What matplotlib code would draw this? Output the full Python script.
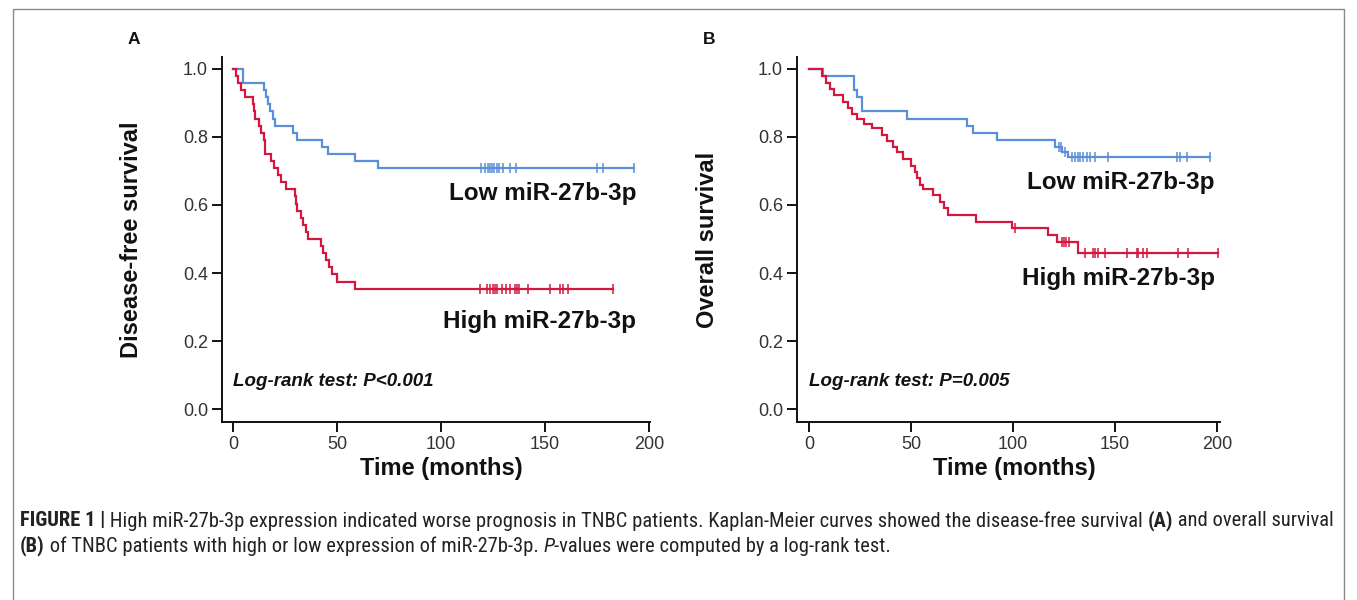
import bisect
import matplotlib
matplotlib.use("Agg")
import matplotlib.pyplot as plt
from matplotlib import font_manager
from matplotlib.patches import Rectangle

avail = {f.name for f in font_manager.fontManager.ttflist}
BASE = "Liberation Sans" if "Liberation Sans" in avail else "DejaVu Sans"
NARROW = BASE
for cand in ("Liberation Sans Narrow", "Arial Narrow", "Roboto Condensed", "Open Sans Condensed"):
    if cand in avail:
        NARROW = cand
        break
plt.rcParams["font.family"] = [BASE, "DejaVu Sans"]

# ---------------- data ----------------
# Panel A: disease-free survival
dfs_low_times = [0, 4.7, 15.0, 16.0, 17.0, 18.0, 19.0, 20.2, 28.7, 31.0, 42.6, 45.8, 58.7, 69.6]
dfs_low_surv = [1.0, 0.958, 0.9375, 0.917, 0.896, 0.875, 0.854, 0.833, 0.8125, 0.792, 0.771, 0.750, 0.729, 0.708]
dfs_low_end = 193.0
dfs_low_censor = [119, 121, 122.5, 123.5, 124.5, 125.5, 127, 128, 130, 133, 136, 175, 178, 193]

dfs_high_times = [0, 1.5, 2.5, 4.0, 5.8, 9.5, 10.2, 10.6, 12.5, 13.3, 14.9, 15.3, 15.6, 18.5, 19.5, 21.5,
                  23.2, 25.5, 29.8, 30.4, 31.0, 32.5, 33.5, 35.0, 36.2, 42.4, 43.3, 44.5, 46.0, 47.5, 49.8, 58.7]
dfs_high_surv = [1.0, 0.979, 0.958, 0.9375, 0.917, 0.896, 0.875, 0.854, 0.833, 0.8125, 0.792, 0.771, 0.75,
                 0.729, 0.708, 0.6875, 0.667, 0.646, 0.625, 0.604, 0.583, 0.5625, 0.542, 0.521, 0.5, 0.479,
                 0.458, 0.4375, 0.417, 0.396, 0.375, 0.354]
dfs_high_end = 182.7
dfs_high_censor = [118.8, 122.3, 123.6, 124.9, 126, 126.8, 129.2, 131.3, 133.2, 135.6, 136.7, 137.6, 142,
                   152.4, 157.2, 158.8, 161.2, 182.7]

# Panel B: overall survival
os_low_times = [0, 6.7, 22.1, 23.7, 25.8, 47.9, 77.3, 80.6, 92.0, 120.6, 124.0, 127.1]
os_low_surv = [1.0, 0.979, 0.9375, 0.917, 0.875, 0.854, 0.833, 0.8125, 0.792, 0.771, 0.757, 0.742]
os_low_end = 196.5
os_low_censor = [122.5, 123.5, 125.5, 128.8, 130.4, 132, 132.8, 134.5, 136.1, 137.7, 140.2, 146.7,
                 180.2, 181.9, 185.1, 196.5]

os_high_times = [0, 6.5, 8.5, 10.3, 12.0, 16.8, 19.0, 21.0, 23.4, 27.0, 31.0, 36.0, 38.0, 41.0, 43.0,
                 46.0, 50.0, 52.0, 52.8, 54.5, 56.0, 61.0, 64.0, 66.0, 68.0, 82.0, 99.5, 117.0, 121.4, 132.0]
os_high_surv = [1.0, 0.98, 0.96, 0.94, 0.922, 0.903, 0.885, 0.868, 0.852, 0.838, 0.825, 0.806, 0.787,
                0.769, 0.755, 0.735, 0.716, 0.697, 0.678, 0.66, 0.646, 0.628, 0.609, 0.59, 0.571, 0.551,
                0.531, 0.511, 0.492, 0.458]
os_high_end = 200.5
os_high_censor = [101, 124, 125, 126, 127.5, 135.3, 139.4, 140.2, 141.8, 145.1, 155.7, 160.6, 161.4,
                  163.8, 165.5, 181, 185.9, 200.5]

x_ticks = [0, 50, 100, 150, 200]
y_ticks = [0.0, 0.2, 0.4, 0.6, 0.8, 1.0]
panel_letters = ["A", "B"]
y_labels = ["Disease-free survival", "Overall survival"]
x_label = "Time (months)"
low_label = "Low miR-27b-3p"
high_label = "High miR-27b-3p"
pvals = ["Log-rank test: P<0.001", "Log-rank test: P=0.005"]

BLUE = "#5b8fd8"
RED = "#d5173f"

W, H = 1357, 600
fig = plt.figure(figsize=(W / 100, H / 100), dpi=100)


def px_axes(x0, x1, ytop, ybot):
    return fig.add_axes([x0 / W, 1 - ybot / H, (x1 - x0) / W, (ybot - ytop) / H])


def km(ax, times, surv, end, censor, color):
    xs = list(times) + [end]
    ys = list(surv) + [surv[-1]]
    ax.step(xs, ys, where="post", color=color, lw=1.6, solid_joinstyle="miter")
    cy = [surv[bisect.bisect_right(times, c) - 1] for c in censor]
    ax.plot(censor, cy, ls="none", marker="|", ms=7.5, mew=1.1, color=color)


def style(ax, xlim):
    ax.set_xlim(*xlim)
    ax.set_ylim(-0.038, 1.035)
    for s in ("top", "right"):
        ax.spines[s].set_visible(False)
    for s in ("left", "bottom"):
        ax.spines[s].set_linewidth(1.4)
        ax.spines[s].set_color("#111111")
    ax.set_xticks(x_ticks)
    ax.set_yticks(y_ticks)
    ax.set_yticklabels([f"{v:.1f}" for v in y_ticks])
    ax.tick_params(direction="out", length=7.5, width=1.4, colors="#111111",
                   labelsize=13, labelcolor="#333333", pad=2.5)
    for lab in ax.get_xticklabels() + ax.get_yticklabels():
        lab.set_family([BASE, "DejaVu Sans"])


axA = px_axes(222, 650, 57, 422)
axB = px_axes(797, 1220, 57, 422)

km(axA, dfs_low_times, dfs_low_surv, dfs_low_end, dfs_low_censor, BLUE)
km(axA, dfs_high_times, dfs_high_surv, dfs_high_end, dfs_high_censor, RED)
km(axB, os_low_times, os_low_surv, os_low_end, os_low_censor, BLUE)
km(axB, os_high_times, os_high_surv, os_high_end, os_high_censor, RED)

style(axA, (-5.3, 200.5))
style(axB, (-5.9, 201.5))

lab_kw = dict(fontsize=17, fontweight="bold", color="#111111")
for ax, yl, pv in zip((axA, axB), y_labels, pvals):
    ax.set_ylabel(yl, **lab_kw)
    ax.yaxis.set_label_coords(-0.185, 0.5)
    ax.set_xlabel(x_label, **lab_kw)
    ax.xaxis.set_label_coords(0.513, -0.095)
    ax.text(0.0, 0.08, pv, fontsize=13.5, fontweight="bold", fontstyle="italic",
            color="#111111", ha="left", va="center")

# panel letters (pixel positions)
for letter, xpx in zip(panel_letters, (134, 709)):
    fig.text(xpx / W, 1 - 40 / H, letter, fontsize=12.5, fontweight="bold",
             ha="center", va="center", color="#111111")

# curve labels
axA.text(194, 0.635, low_label, fontsize=17.5, fontweight="bold", ha="right", va="center", color="#111111")
axA.text(194, 0.256, high_label, fontsize=17.5, fontweight="bold", ha="right", va="center", color="#111111")
axB.text(199, 0.665, low_label, fontsize=17.5, fontweight="bold", ha="right", va="center", color="#111111")
axB.text(199, 0.385, high_label, fontsize=17.5, fontweight="bold", ha="right", va="center", color="#111111")

# frame around the whole figure (bottom edge falls outside the picture)
fig.patches.append(Rectangle((13.5 / W, -0.05), (1344 - 13.5) / W, 1.05 - 8.5 / H,
                             transform=fig.transFigure, fill=False, lw=1.0,
                             edgecolor="#8a8a8a", clip_on=False))

# caption
line1 = [("FIGURE 1 |", "bold", "normal"),
         (" High miR-27b-3p expression indicated worse prognosis in TNBC patients. Kaplan-Meier curves "
          "showed the disease-free survival ", "normal", "normal"),
         ("(A)", "bold", "normal"),
         (" and overall survival", "normal", "normal")]
line2 = [("(B)", "bold", "normal"),
         (" of TNBC patients with high or low expression of miR-27b-3p. ", "normal", "normal"),
         ("P", "normal", "italic"),
         ("-values were computed by a log-rank test.", "normal", "normal")]

renderer = fig.canvas.get_renderer()


def seg_width(txt, size, weight, style_):
    t = fig.text(0, 0, "|" + txt + "|", fontsize=size, fontweight=weight, fontstyle=style_,
                 family=[NARROW, "DejaVu Sans"])
    w = t.get_window_extent(renderer).width
    t.remove()
    t = fig.text(0, 0, "||", fontsize=size, fontweight=weight, fontstyle=style_,
                 family=[NARROW, "DejaVu Sans"])
    w0 = t.get_window_extent(renderer).width
    t.remove()
    return w - w0


def line_width(segs, size):
    return sum(seg_width(s, size, w, st) for s, w, st in segs)


target = 1309
cap_size = 12.0
lw1 = line_width(line1, cap_size)
cap_size = min(16.0, cap_size * target / lw1)


def draw_line(segs, y_px, size):
    x = 20.0
    for s, w, st in segs:
        fig.text(x / W, 1 - y_px / H, s, fontsize=size, fontweight=w, fontstyle=st,
                 family=[NARROW, "DejaVu Sans"], ha="left", va="center", color="#222222")
        x += seg_width(s, size, w, st)


draw_line(line1, 521, cap_size)
draw_line(line2, 546, cap_size)

fig.savefig("out.png", dpi=100)
